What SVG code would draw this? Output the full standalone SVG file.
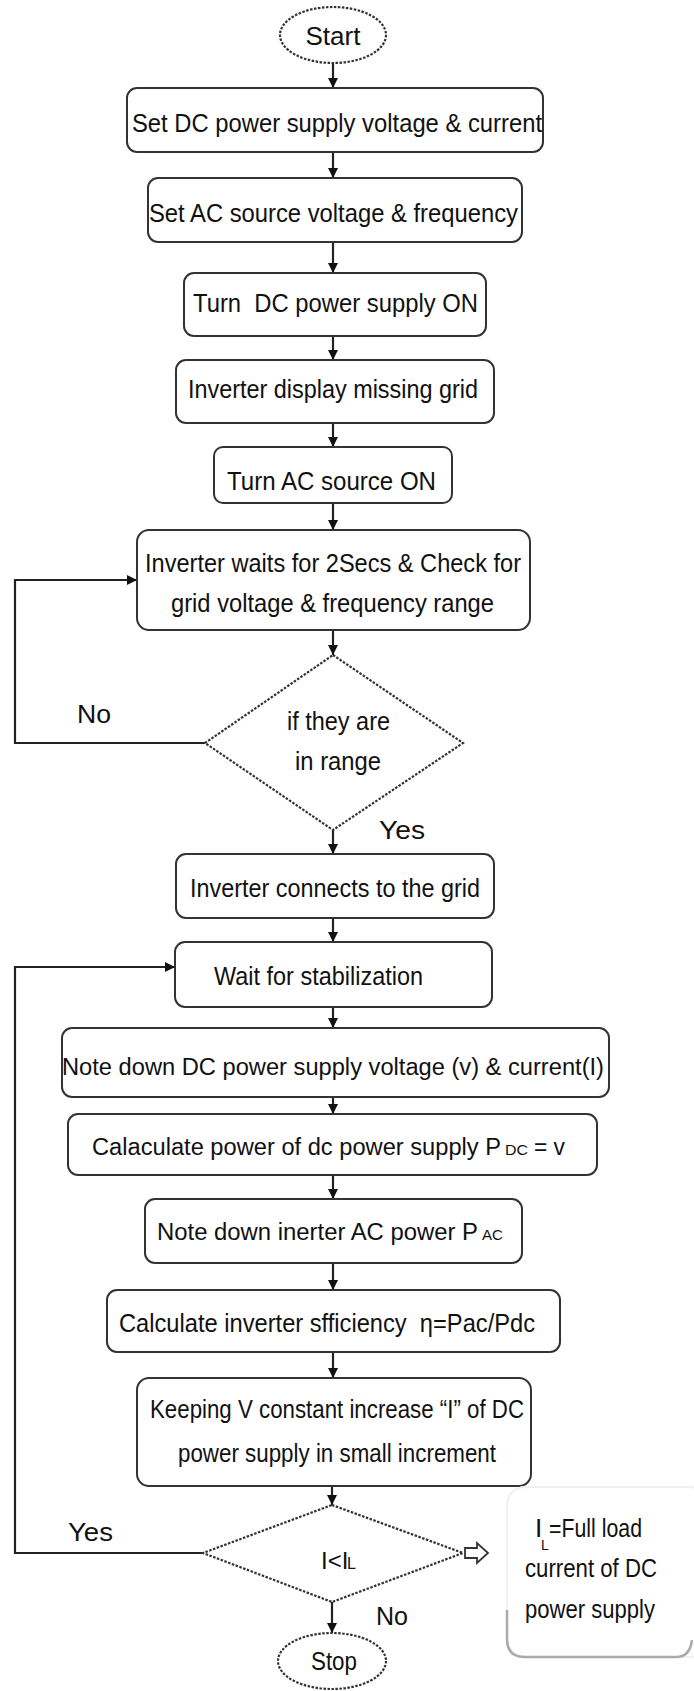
<svg xmlns="http://www.w3.org/2000/svg" width="694" height="1691" viewBox="0 0 694 1691">
<style>
text{font-family:"Liberation Sans",Arial,sans-serif;font-size:26px;fill:#111}
.box{fill:#fff;stroke:#333;stroke-width:2}
.dot{fill:#fff;stroke:#333;stroke-width:2.2;stroke-dasharray:2.5 1.5}
.con{fill:none;stroke:#222;stroke-width:2.2}
.lbl{font-size:26px}
.mid{font-size:23.5px}
.sub{font-size:15px}
.c{text-anchor:middle}
</style>
<defs>
<marker id="ah" viewBox="0 0 10 10" refX="10" refY="5" markerWidth="10" markerHeight="11" markerUnits="userSpaceOnUse" orient="auto">
<path d="M0,0 L10,5 L0,10 z" fill="#111"/>
</marker>
</defs>
<rect width="694" height="1691" fill="#fff"/>

<g id="connectors">
<line class="con" x1="333" y1="63" x2="333" y2="88" marker-end="url(#ah)"/>
<line class="con" x1="333" y1="152" x2="333" y2="178" marker-end="url(#ah)"/>
<line class="con" x1="333" y1="242" x2="333" y2="273" marker-end="url(#ah)"/>
<line class="con" x1="333" y1="336" x2="333" y2="360" marker-end="url(#ah)"/>
<line class="con" x1="333" y1="423" x2="333" y2="447" marker-end="url(#ah)"/>
<line class="con" x1="333" y1="503" x2="333" y2="530" marker-end="url(#ah)"/>
<line class="con" x1="333" y1="630" x2="333" y2="655" marker-end="url(#ah)"/>
<line class="con" x1="333" y1="830" x2="333" y2="854" marker-end="url(#ah)"/>
<line class="con" x1="333" y1="918" x2="333" y2="942" marker-end="url(#ah)"/>
<line class="con" x1="333" y1="1007" x2="333" y2="1028" marker-end="url(#ah)"/>
<line class="con" x1="333" y1="1097" x2="333" y2="1114" marker-end="url(#ah)"/>
<line class="con" x1="333" y1="1175" x2="333" y2="1199" marker-end="url(#ah)"/>
<line class="con" x1="333" y1="1263" x2="333" y2="1290" marker-end="url(#ah)"/>
<line class="con" x1="333" y1="1352" x2="333" y2="1378" marker-end="url(#ah)"/>
<line class="con" x1="332" y1="1486" x2="332" y2="1505" marker-end="url(#ah)"/>
<line class="con" x1="332" y1="1602" x2="332" y2="1633" marker-end="url(#ah)"/>
<polyline class="con" points="205,743 15,743 15,580 137,580" marker-end="url(#ah)"/>
<polyline class="con" points="203,1553 15,1553 15,967 175,967" marker-end="url(#ah)"/>
<polygon points="465,1548 477,1548 477,1543 488,1553 477,1563 477,1558 465,1558" fill="#fff" stroke="#333" stroke-width="1.8"/>
</g>

<g id="start">
<ellipse class="dot" cx="333" cy="35" rx="53" ry="28"/>
<text x="333" y="45" class="c">Start</text>
</g>

<g id="n1">
<rect class="box" x="127" y="88" width="416" height="64" rx="10"/>
<text x="132" y="132" textLength="410" lengthAdjust="spacingAndGlyphs">Set DC power supply voltage &amp; current</text>
</g>

<g id="n2">
<rect class="box" x="148" y="178" width="374" height="64" rx="10"/>
<text x="149" y="222" textLength="369" lengthAdjust="spacingAndGlyphs">Set AC source voltage &amp; frequency</text>
</g>

<g id="n3">
<rect class="box" x="184" y="273" width="302" height="63" rx="10"/>
<text x="193" y="312" textLength="285" lengthAdjust="spacingAndGlyphs" xml:space="preserve">Turn  DC power supply ON</text>
</g>

<g id="n4">
<rect class="box" x="176" y="360" width="318" height="63" rx="10"/>
<text x="188" y="398" textLength="290" lengthAdjust="spacingAndGlyphs">Inverter display missing grid</text>
</g>

<g id="n5">
<rect class="box" x="214" y="447" width="238" height="56" rx="9"/>
<text x="227" y="490" textLength="209" lengthAdjust="spacingAndGlyphs">Turn AC source ON</text>
</g>

<g id="n6">
<rect class="box" x="137" y="530" width="393" height="100" rx="12"/>
<text x="145" y="572" textLength="376" lengthAdjust="spacingAndGlyphs">Inverter waits for 2Secs &amp; Check for</text>
<text x="171" y="612" textLength="323" lengthAdjust="spacingAndGlyphs">grid voltage &amp; frequency range</text>
</g>

<g id="d1">
<polygon class="dot" points="333,655 463,743 333,830 205,743"/>
<text x="287" y="730" textLength="103" lengthAdjust="spacingAndGlyphs">if they are</text>
<text x="295" y="770" textLength="86" lengthAdjust="spacingAndGlyphs">in range</text>
</g>

<g id="labels1">
<text x="77" y="723" class="lbl" textLength="34" lengthAdjust="spacingAndGlyphs">No</text>
<text x="379" y="839" class="lbl" textLength="46" lengthAdjust="spacingAndGlyphs">Yes</text>
</g>

<g id="n7">
<rect class="box" x="176" y="854" width="318" height="64" rx="10"/>
<text x="190" y="897" textLength="290" lengthAdjust="spacingAndGlyphs">Inverter connects to the grid</text>
</g>

<g id="n8">
<rect class="box" x="175" y="942" width="317" height="65" rx="10"/>
<text x="214" y="985" textLength="209" lengthAdjust="spacingAndGlyphs">Wait for stabilization</text>
</g>

<g id="n9">
<rect class="box" x="62" y="1028" width="547" height="69" rx="10"/>
<text x="62" y="1075" class="mid" textLength="542" lengthAdjust="spacingAndGlyphs">Note down DC power supply voltage (v) &amp; current(I)</text>
</g>

<g id="n10">
<rect class="box" x="68" y="1114" width="529" height="61" rx="10"/>
<text x="92" y="1155" class="mid" textLength="409" lengthAdjust="spacingAndGlyphs">Calaculate power of dc power supply P</text>
<text x="505" y="1155" class="sub" textLength="23" lengthAdjust="spacingAndGlyphs">DC</text>
<text x="534" y="1155" class="mid" xml:space="preserve" textLength="31" lengthAdjust="spacingAndGlyphs">= v</text>
</g>

<g id="n11">
<rect class="box" x="145" y="1199" width="377" height="64" rx="10"/>
<text x="157" y="1240" class="mid" textLength="321" lengthAdjust="spacingAndGlyphs">Note down inerter AC power P</text>
<text x="482" y="1240" class="sub" textLength="21" lengthAdjust="spacingAndGlyphs">AC</text>
</g>

<g id="n12">
<rect class="box" x="107" y="1290" width="453" height="62" rx="10"/>
<text x="119" y="1332" textLength="416" lengthAdjust="spacingAndGlyphs" xml:space="preserve">Calculate inverter sfficiency  η=Pac/Pdc</text>
</g>

<g id="n13">
<rect class="box" x="137" y="1378" width="394" height="108" rx="12"/>
<text x="150" y="1418" textLength="374" lengthAdjust="spacingAndGlyphs">Keeping V constant increase “I” of DC</text>
<text x="178" y="1462" textLength="318" lengthAdjust="spacingAndGlyphs">power supply in small increment</text>
</g>

<g id="d2">
<polygon class="dot" points="332,1505 463,1553 332,1602 203,1553"/>
<text x="321" y="1569" style="font-size:24px">I&lt;I</text>
<text x="347" y="1569" style="font-size:16px">L</text>
</g>

<g id="labels2">
<text x="68" y="1541" class="lbl" textLength="45" lengthAdjust="spacingAndGlyphs">Yes</text>
<text x="376" y="1625" class="lbl" textLength="32" lengthAdjust="spacingAndGlyphs">No</text>
</g>

<g id="stop">
<ellipse class="dot" cx="332" cy="1661" rx="54" ry="28"/>
<text x="334" y="1670" class="c" textLength="46" lengthAdjust="spacingAndGlyphs">Stop</text>
</g>

<g id="note">
<rect x="507" y="1487" width="200" height="170" rx="18" fill="#fff" stroke="#f0f0f0" stroke-width="2"/>
<path d="M507,1610 L507,1639 Q507,1657 525,1657 L676,1657 Q690,1657 692,1640" fill="none" stroke="#aaa" stroke-width="2.5"/>
<text x="535" y="1537">I</text>
<text x="541" y="1550" style="font-size:14px">L</text>
<text x="549" y="1537" textLength="93" lengthAdjust="spacingAndGlyphs">=Full load</text>
<text x="525" y="1577" textLength="132" lengthAdjust="spacingAndGlyphs">current of DC</text>
<text x="525" y="1618" textLength="130" lengthAdjust="spacingAndGlyphs">power supply</text>
</g>
</svg>
